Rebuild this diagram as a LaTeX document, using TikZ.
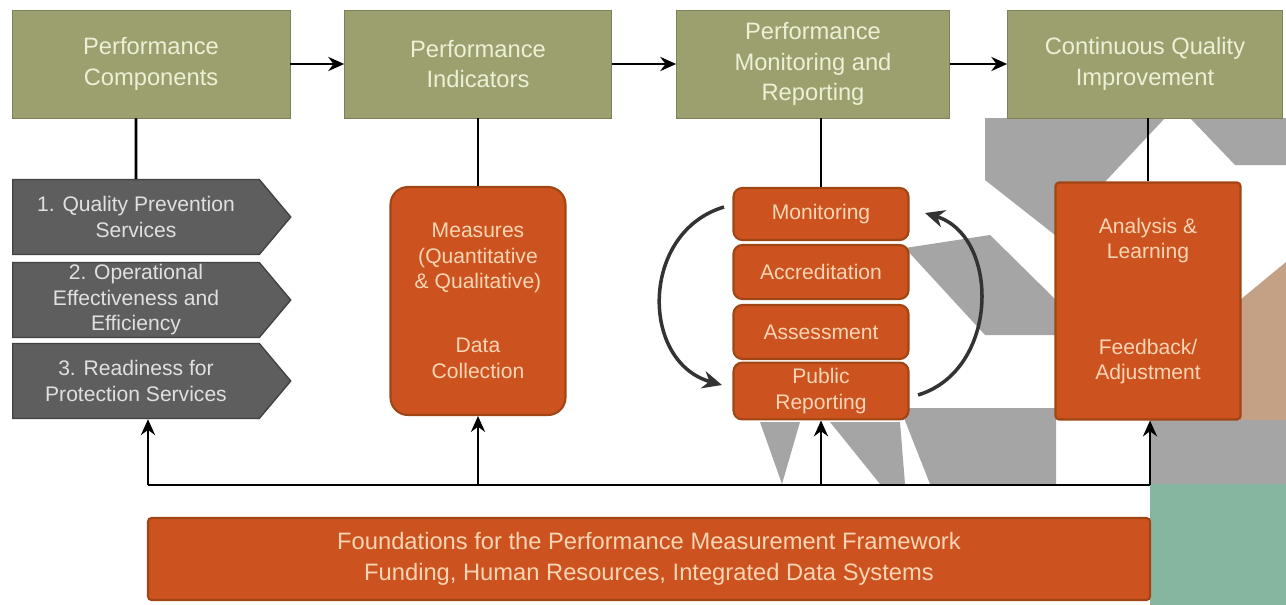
\documentclass[tikz,border=0pt]{standalone}
\usepackage{fontspec}
\setmainfont{Liberation Sans}
\usetikzlibrary{arrows.meta,shapes.symbols}
\definecolor{olivebox}{RGB}{156,160,110}
\definecolor{olivetext}{RGB}{238,240,214}
\definecolor{greybox}{RGB}{94,94,94}
\definecolor{orangebox}{RGB}{204,82,32}
\definecolor{orangeline}{RGB}{160,70,20}
\definecolor{orangetext}{RGB}{250,214,180}
\definecolor{backgrey}{RGB}{165,165,165}
\definecolor{backtan}{RGB}{196,160,132}
\definecolor{backteal}{RGB}{132,182,160}
\tikzset{
  topbox/.style={draw=olivebox!80!black, fill=olivebox, text=olivetext, align=center,
    font=\fontsize{13.5}{17.5}\selectfont, inner sep=2pt},
  greyarrow/.style={signal, signal to=east, signal pointer angle=100, draw=greybox!70!black,
    line width=0.8pt, fill=greybox, text=white!88!black, align=center,
    font=\fontsize{12}{14.5}\selectfont, inner sep=1pt},
  orangebox/.style={draw=orangeline, line width=1.2pt, fill=orangebox, text=orangetext,
    align=center, font=\fontsize{12}{14.5}\selectfont, rounded corners=5pt},
  link/.style={line width=1.6pt, black},
  linkarrow/.style={link, -{Stealth[length=9pt,width=8pt]}},
  cyclearrow/.style={line width=2pt, black!80, -{Stealth[length=11pt,width=10pt]}},
}
\begin{document}
\begin{tikzpicture}[x=0.02cm,y=-0.02cm]
		\useasboundingbox[fill=white] (0,0) rectangle (1286,605);
		
		%% background shapes
		\fill[backgrey] (985,118) -- (1165,118) -- (1055,235) -- (985,180) -- cycle;
		\fill[backgrey] (1190,118) -- (1286,118) -- (1286,165) -- (1235,165) -- cycle;
		\fill[backgrey] (905,248) -- (990,235) -- (1056,300) -- (1056,335) -- (985,335) -- cycle;
		\fill[backtan] (1240,300) -- (1286,262) -- (1286,470) -- (1240,470) -- cycle;
		\fill[backgrey] (900,408) -- (1056,408) -- (1056,484) -- (930,484) -- cycle;
		\fill[backgrey] (1150,420) -- (1286,420) -- (1286,484) -- (1150,484) -- cycle;
		\fill[backgrey] (760,422) -- (800,422) -- (782,484) -- cycle;
		\fill[backgrey] (830,422) -- (900,422) -- (905,484) -- (880,484) -- cycle;
		\fill[backteal] (1150,484) rectangle (1286,605);
		
		%% top row
		\node[topbox, minimum width=278*0.02cm, minimum height=108*0.02cm] (pc) at (151,64) {Performance\\Components};
		\node[topbox, minimum width=267*0.02cm, minimum height=108*0.02cm] (pi) at (478,64) {Performance\\Indicators};
		\node[topbox, minimum width=273*0.02cm, minimum height=108*0.02cm] (pm) at (813,64) {Performance\\Monitoring and\\Reporting};
		\node[topbox, minimum width=275*0.02cm, minimum height=108*0.02cm] (cq) at (1145,64) {Continuous Quality\\Improvement};
		
		\draw[linkarrow] (pc) -- (pi);
		\draw[linkarrow] (pi) -- (pm);
		\draw[linkarrow] (pm) -- (cq);
		
		%% components
		\node[greyarrow, minimum width=278*0.02cm, minimum height=75*0.02cm] (r1) at (136,217) {1. Quality Prevention\\Services};
		\node[greyarrow, minimum width=278*0.02cm, minimum height=75*0.02cm] (r2) at (136,300) {2. Operational\\Effectiveness and\\Efficiency};
		\node[greyarrow, minimum width=278*0.02cm, minimum height=75*0.02cm] (r3) at (136,381) {3. Readiness for\\Protection Services};
		
		%% indicators
		\node[orangebox, minimum width=175*0.02cm, minimum height=228*0.02cm, rounded corners=10pt] (ms) at (478,301) {Measures\\(Quantitative\\\& Qualitative)\\[22pt]Data\\Collection};
		
		%% monitoring and reporting
		\node[orangebox, minimum width=175*0.02cm, minimum height=52*0.02cm] (mon) at (821,214) {Monitoring};
		\node[orangebox, minimum width=175*0.02cm, minimum height=54*0.02cm] (acc) at (821,272) {Accreditation};
		\node[orangebox, minimum width=175*0.02cm, minimum height=54*0.02cm] (ass) at (821,332) {Assessment};
		\node[orangebox, minimum width=175*0.02cm, minimum height=56*0.02cm] (pr) at (821,391) {Public\\Reporting};
		
		\coordinate (la) at (724,207);
		\coordinate (lb) at (722,385);
		\coordinate (ra) at (925,213);
		\coordinate (rb) at (918,395);
		\draw[cyclearrow] (la) .. controls (640,232) and (640,362) .. (lb);
		\draw[cyclearrow] (rb) .. controls (1000,370) and (1000,236) .. (ra);
		
		%% improvement
		\node[orangebox, minimum width=185*0.02cm, minimum height=237*0.02cm, rounded corners=2pt] (al) at (1148,301) {Analysis \&\\Learning\\[40pt]Feedback/\\Adjustment};
		
		\draw[link] (pc.south -| r1) -- (r1);
		\draw[link] (pi) -- (ms);
		\draw[link] (pm.south -| mon) -- (mon);
		\draw[link] (cq.south -| al) -- (al);
		
		%% foundations
		\node[orangebox, minimum width=1002*0.02cm, minimum height=82*0.02cm, rounded corners=2pt,
		  font=\fontsize{13.5}{17.5}\selectfont] (fd) at (649,559) {Foundations for the Performance Measurement Framework\\Funding, Human Resources, Integrated Data Systems};
		
		\coordinate (b1) at (148,485);
		\coordinate (b2) at (478,485);
		\coordinate (b3) at (821,485);
		\coordinate (b4) at (1150,485);
		\draw[link] (b1) -- (b4);
		\draw[linkarrow] (b1) -- (b1 |- r3.south);
		\draw[linkarrow] (b2) -- (ms);
		\draw[linkarrow] (b3) -- (pr);
		\draw[linkarrow] (b4) -- (b4 |- al.south);
\end{tikzpicture}
\end{document}
